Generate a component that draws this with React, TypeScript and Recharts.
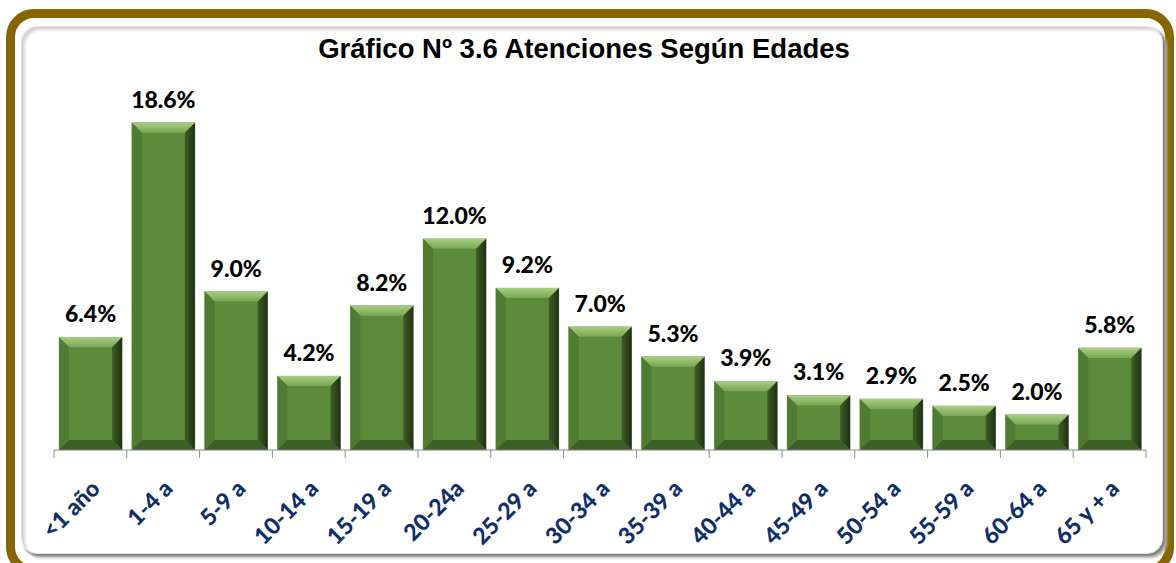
import React from "react";
import { Bar, BarChart, LabelList, XAxis, YAxis } from "recharts";

const ageGroups = [
  "<1 año",
  "1-4 a",
  "5-9 a",
  "10-14 a",
  "15-19 a",
  "20-24a",
  "25-29 a",
  "30-34 a",
  "35-39 a",
  "40-44 a",
  "45-49 a",
  "50-54 a",
  "55-59 a",
  "60-64 a",
  "65 y + a",
];
const shares = [6.4, 18.6, 9.0, 4.2, 8.2, 12.0, 9.2, 7.0, 5.3, 3.9, 3.1, 2.9, 2.5, 2.0, 5.8];

const data = ageGroups.map((group, i) => ({ group, share: shares[i] }));

const W = 1176;
const H = 563;
const PLOT_LEFT = 54;
const PLOT_RIGHT = 1146;
const AXIS_Y = 450;
const STEP = (PLOT_RIGHT - PLOT_LEFT) / ageGroups.length;

function BevelBar(props: any) {
  const { x, y, width: w, height: h } = props;
  if (!h || h <= 0) return null;
  const b = Math.min(10, h / 2, w / 2);
  return (
    <g>
      <rect x={x} y={y} width={w} height={h} fill="#5d8b3c" stroke="#9aa58f" strokeWidth={0.6} />
      <polygon
        points={`${x},${y} ${x + w},${y} ${x + w - b},${y + b} ${x + b},${y + b}`}
        fill="url(#topGrad)"
      />
      <polygon
        points={`${x + w},${y} ${x + w},${y + h} ${x + w - b},${y + h - b} ${x + w - b},${y + b}`}
        fill="url(#rightGrad)"
      />
      <polygon
        points={`${x},${y} ${x + b},${y + b} ${x + b},${y + h - b} ${x},${y + h}`}
        fill="#4f7b33"
      />
      <polygon
        points={`${x},${y + h} ${x + b},${y + h - b} ${x + w - b},${y + h - b} ${x + w},${y + h}`}
        fill="#3c5f26"
      />
    </g>
  );
}

// Excel style: tick marks sit between categories, labels rotated under each bar
function AgeTick(props: any) {
  const { x, payload, index } = props;
  const left = x - STEP / 2;
  const tx = x + 11;
  const ty = AXIS_Y + 40;
  return (
    <g>
      <line x1={left} y1={AXIS_Y} x2={left} y2={AXIS_Y + 8} stroke="#8c8c8c" strokeWidth={1} />
      {index === ageGroups.length - 1 && (
        <line x1={x + STEP / 2} y1={AXIS_Y} x2={x + STEP / 2} y2={AXIS_Y + 8} stroke="#8c8c8c" strokeWidth={1} />
      )}
      <text
        x={tx}
        y={ty}
        transform={`rotate(-45, ${tx}, ${ty})`}
        textAnchor="end"
        fill="#0f2e6b"
        fontFamily="Lato, 'Noto Sans', sans-serif"
        fontWeight={900}
        fontSize={23}
      >
        {payload.value}
      </text>
    </g>
  );
}

export default function App() {
  return (
    <div style={{ position: "absolute", left: 0, top: 0, width: W, height: H, background: "#fff", overflow: "hidden" }}>
      <div
        style={{
          position: "absolute",
          left: 6,
          top: 9,
          width: 1168,
          height: 566,
          border: "9px solid #866600",
          borderRadius: 28,
          boxSizing: "border-box",
        }}
      />
      <div
        style={{
          position: "absolute",
          left: 21,
          top: 26,
          width: 1142,
          height: 528,
          background: "#fff",
          borderRadius: 16,
          border: "1px solid #e2e2e2",
          boxShadow: "inset 3px 3px 3px #d4d4d4, 2px 2px 2px #7f7f7f, 4px 4px 3px #b8b8b8",
          boxSizing: "border-box",
        }}
      />
      <div
        style={{
          position: "absolute",
          left: 0,
          top: 33,
          width: W - 8,
          textAlign: "center",
          fontFamily: "'Liberation Sans', Arial, sans-serif",
          fontWeight: "bold",
          fontSize: 27.5,
          color: "#000",
        }}
      >
        Gráfico Nº 3.6 Atenciones Según Edades
      </div>
      <div style={{ position: "absolute", left: 0, top: 0 }}>
        <BarChart
          width={W}
          height={H}
          data={data}
          margin={{ top: 98, right: W - PLOT_RIGHT, left: PLOT_LEFT, bottom: 13 }}
          barCategoryGap="7%"
        >
          <defs>
            <linearGradient id="topGrad" x1="0" y1="0" x2="0" y2="1">
              <stop offset="0%" stopColor="#a6cf80" />
              <stop offset="100%" stopColor="#7aa654" />
            </linearGradient>
            <linearGradient id="rightGrad" x1="0" y1="0" x2="1" y2="0">
              <stop offset="0%" stopColor="#3d5e27" />
              <stop offset="100%" stopColor="#1f3112" />
            </linearGradient>
          </defs>
          <XAxis
            dataKey="group"
            interval={0}
            height={100}
            tickLine={false}
            axisLine={{ stroke: "#8c8c8c", strokeWidth: 1 }}
            tick={<AgeTick />}
          />
          <YAxis hide domain={[0, 20]} />
          <Bar dataKey="share" shape={<BevelBar />} isAnimationActive={false}>
            <LabelList
              dataKey="share"
              position="top"
              offset={15}
              formatter={(v: any) => `${Number(v).toFixed(1)}%`}
              style={{
                fontFamily: "Lato, 'Noto Sans', sans-serif",
                fontWeight: 900,
                fontSize: 23,
                fill: "#000",
              }}
            />
          </Bar>
        </BarChart>
      </div>
    </div>
  );
}
